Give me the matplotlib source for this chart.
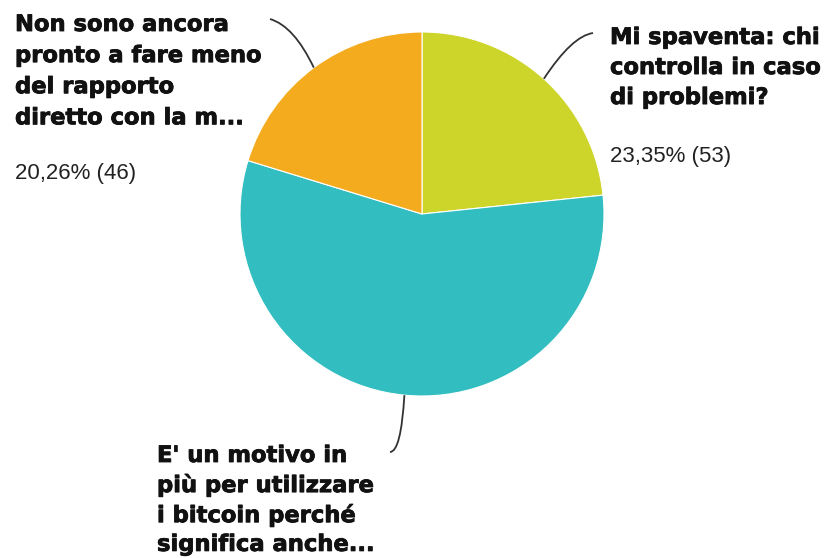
import matplotlib
matplotlib.use("Agg")
import matplotlib.pyplot as plt
import matplotlib.patheffects as pe
import numpy as np
from matplotlib.path import Path
from matplotlib.patches import PathPatch

# ---- data ----
categories = [
    "Mi spaventa: chi\ncontrolla in caso\ndi problemi?",
    "E' un motivo in\npiù per utilizzare\ni bitcoin perché\nsignifica anche...",
    "Non sono ancora\npronto a fare meno\ndel rapporto\ndiretto con la m...",
]
counts = [53, 128, 46]
show_pct = [True, False, True]
colors = ["#CDD42A", "#32BDC0", "#F5AB1E"]

W, H = 830, 558
fig = plt.figure(figsize=(W / 100, H / 100), dpi=100)
fig.patch.set_facecolor("white")

# pie geometry in pixels
cx, cy, r = 422, 214, 182
ax = fig.add_axes([(cx - r) / W, (H - cy - r) / H, 2 * r / W, 2 * r / H])
wedges, _ = ax.pie(counts, colors=colors, startangle=90, counterclock=False,
                   radius=1, wedgeprops=dict(edgecolor="white", linewidth=0.8))
ax.set_xlim(-1, 1)
ax.set_ylim(-1, 1)
ax.set_aspect("equal")
ax.axis("off")

# overlay in pixel coords
ov = fig.add_axes([0, 0, 1, 1], zorder=5)
ov.set_xlim(0, W)
ov.set_ylim(H, 0)
ov.axis("off")

total = sum(counts)

def pct_text(c):
    return f"{100 * c / total:.2f}".replace(".", ",") + f"% ({c})"

layout = [
    dict(x=610, y=26, py=146, end=(593, 33), ctrl=(572, 36), ls=1.39),
    dict(x=157, y=444, py=None, end=(390, 452), ctrl=(401, 452), ls=1.32),
    dict(x=15, y=13, py=163, end=(270, 19), ctrl=(294, 26), ls=1.45),
]

for w, cat, c, sp, lay in zip(wedges, categories, counts, show_pct, layout):
    mid = np.deg2rad((w.theta1 + w.theta2) / 2)
    sx, sy = cx + r * np.cos(mid), cy - r * np.sin(mid)
    path = Path([(sx, sy), lay["ctrl"], lay["end"]],
                [Path.MOVETO, Path.CURVE3, Path.CURVE3])
    ov.add_patch(PathPatch(path, facecolor="none", edgecolor="#333333", lw=1.3))
    ov.text(lay["x"], lay["y"], cat, ha="left", va="top",
            family="DejaVu Sans", fontweight="bold", fontsize=16.3,
            linespacing=lay["ls"], color="#111111",
            path_effects=[pe.withStroke(linewidth=0.6, foreground="#111111")])
    if sp:
        ov.text(lay["x"], lay["py"], pct_text(c), ha="left", va="top",
                family="Liberation Sans", fontsize=16, color="#222222")

fig.savefig("out.png", dpi=100, facecolor="white")
